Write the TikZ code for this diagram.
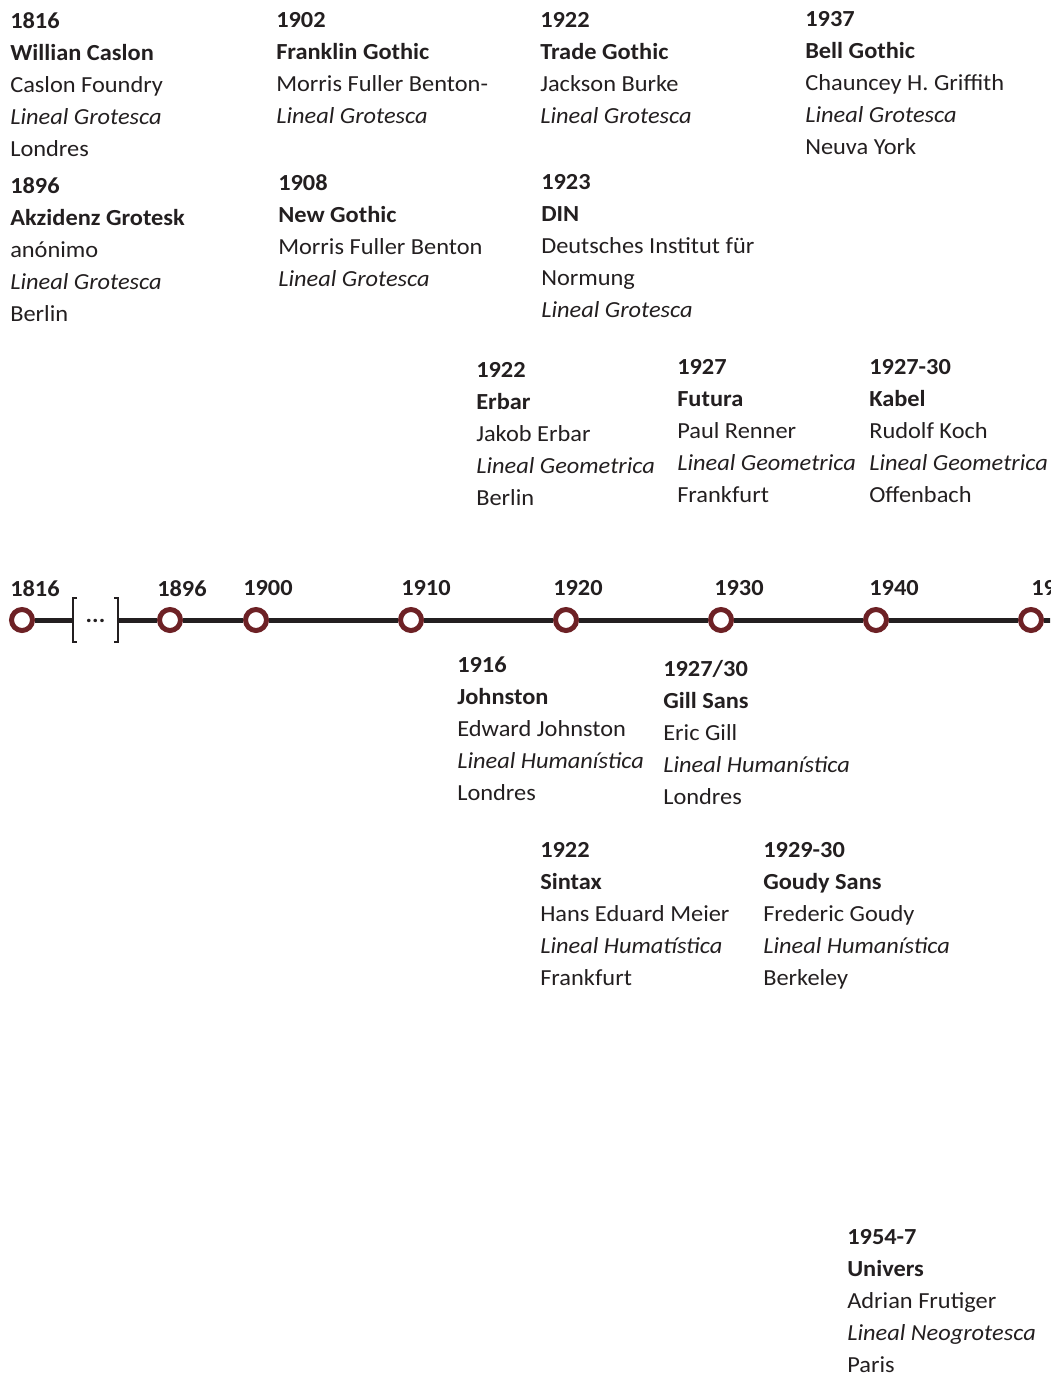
\documentclass[tikz,border=0pt]{standalone}
\usepackage{fontspec}
\setmainfont[FakeStretch=1.06]{Carlito}
\usepackage{tikz}
\usetikzlibrary{positioning,calc}
\usepackage{xcolor}

\definecolor{ink}{HTML}{231F20}
\definecolor{ringred}{HTML}{6D2125}

\tikzset{
  entry/.style={anchor=north west, inner sep=0pt, align=left, text=ink,
    font=\fontsize{17.25}{24}\selectfont},
  yearlabel/.style={anchor=north west, inner sep=0pt, text=ink,
    font=\fontsize{17.25}{24}\selectfont\bfseries},
  yearmark/.style={circle, draw=ringred, fill=white, line width=3.75pt,
    inner sep=0pt, minimum size=15.75pt},
  axis/.style={draw=ink, line width=3.75pt},
  bracketline/.style={draw=ink, line width=1.9pt}
}

\begin{document}
\begin{tikzpicture}[x=0.75pt,y=-0.75pt]
\useasboundingbox (0,0) rectangle (1050,1373);
\clip (0,0) rectangle (1050,1373);

% upper entries
\node[entry] (caslon) at (10,12) {\textbf{1816}\\\textbf{Willian Caslon}\\Caslon Foundry\\\textit{Lineal Grotesca}\\Londres};
\node[entry] (akzidenz) at (10,177) {\textbf{1896}\\\textbf{Akzidenz Grotesk}\\anónimo\\\textit{Lineal Grotesca}\\Berlin};
\node[entry] (franklin) at (276,12) {\textbf{1902}\\\textbf{Franklin Gothic}\\Morris Fuller Benton-\\\textit{Lineal Grotesca}};
\node[entry] (newgothic) at (278,174) {\textbf{1908}\\\textbf{New Gothic}\\Morris Fuller Benton\\\textit{Lineal Grotesca}};
\node[entry] (tradegothic) at (540,12) {\textbf{1922}\\\textbf{Trade Gothic}\\Jackson Burke\\\textit{Lineal Grotesca}};
\node[entry] (din) at (541,174) {\textbf{1923}\\\textbf{DIN}\\Deutsches Institut für\\Normung\\\textit{Lineal Grotesca}};
\node[entry] (bellgothic) at (805,11) {\textbf{1937}\\\textbf{Bell Gothic}\\Chauncey H. Griffith\\\textit{Lineal Grotesca}\\Neuva York};

\node[entry] (erbar) at (476,362) {\textbf{1922}\\\textbf{Erbar}\\Jakob Erbar\\\textit{Lineal Geometrica}\\Berlin};
\node[entry] (futura) at (677,359) {\textbf{1927}\\\textbf{Futura}\\Paul Renner\\\textit{Lineal Geometrica}\\Frankfurt};
\node[entry] (kabel) at (869,359) {\textbf{1927-30}\\\textbf{Kabel}\\Rudolf Koch\\\textit{Lineal Geometrica}\\Offenbach};

% timeline
\node[yearmark] (y1816) at (22,620) {};
\coordinate (bl) at (73,620);
\coordinate (br) at (118,620);
\node[yearmark] (y1896) at (170,620) {};
\node[yearmark] (y1900) at (256,620) {};
\node[yearmark] (y1910) at (411,620) {};
\node[yearmark] (y1920) at (566,620) {};
\node[yearmark] (y1930) at (721,620) {};
\node[yearmark] (y1940) at (876,620) {};
\node[yearmark] (y1950) at (1031,620) {};
\coordinate (axisend) at (1060,620);

\draw[axis] (y1816) -- (bl);
\draw[axis] (br) -- (y1896);
\draw[axis] (y1896) -- (y1900);
\draw[axis] (y1900) -- (y1910);
\draw[axis] (y1910) -- (y1920);
\draw[axis] (y1920) -- (y1930);
\draw[axis] (y1930) -- (y1940);
\draw[axis] (y1940) -- (y1950);
\draw[axis] (y1950) -- (axisend);

\draw[bracketline] ($(bl)+(4,-22)$) -- ($(bl)+(0,-22)$) -- ($(bl)+(0,22)$) -- ($(bl)+(4,22)$);
\draw[bracketline] ($(br)+(-4,-22)$) -- ($(br)+(0,-22)$) -- ($(br)+(0,22)$) -- ($(br)+(-4,22)$);
\node[text=ink, font=\fontsize{17.25}{24}\selectfont\bfseries, inner sep=0pt] (gap) at ($(bl)!0.5!(br)+(0,1)$) {...};

\node[yearlabel] (l1816) at (10,580) {1816};
\node[yearlabel] (l1896) at (157,580) {1896};
\node[yearlabel] (l1900) at (243,580) {1900};
\node[yearlabel] (l1910) at (401,580) {1910};
\node[yearlabel] (l1920) at (553,580) {1920};
\node[yearlabel] (l1930) at (714,580) {1930};
\node[yearlabel] (l1940) at (869,580) {1940};
\node[yearlabel] (l1950) at (1031,580) {1950};

% lower entries
\node[entry] (johnston) at (457,657) {\textbf{1916}\\\textbf{Johnston}\\Edward Johnston\\\textit{Lineal Humanística}\\Londres};
\node[entry] (gillsans) at (663,660) {\textbf{1927/30}\\\textbf{Gill Sans}\\Eric Gill\\\textit{Lineal Humanística}\\Londres};
\node[entry] (sintax) at (540,842) {\textbf{1922}\\\textbf{Sintax}\\Hans Eduard Meier\\\textit{Lineal Humatística}\\Frankfurt};
\node[entry] (goudy) at (763,842) {\textbf{1929-30}\\\textbf{Goudy Sans}\\Frederic Goudy\\\textit{Lineal Humanística}\\Berkeley};
\node[entry] (univers) at (847,1229) {\textbf{1954-7}\\\textbf{Univers}\\Adrian Frutiger\\\textit{Lineal Neogrotesca}\\Paris};
\end{tikzpicture}
\end{document}
